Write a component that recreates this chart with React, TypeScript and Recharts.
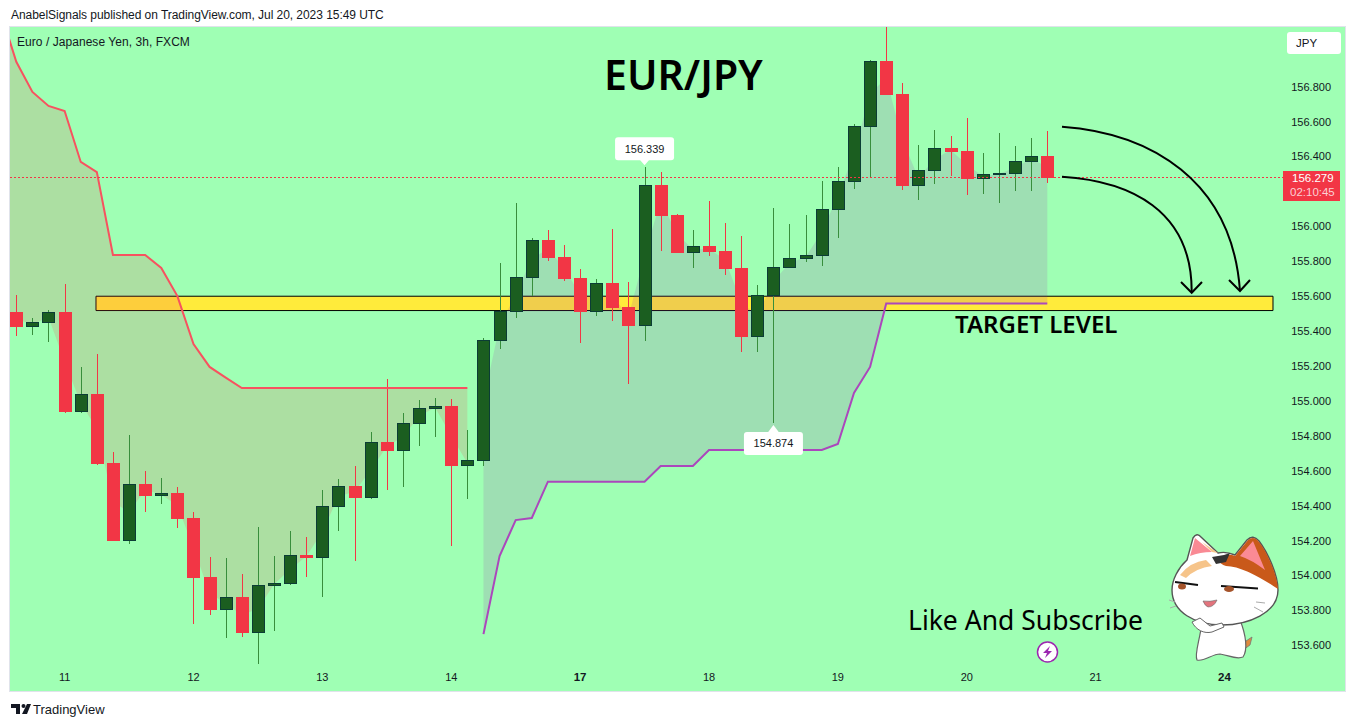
// EUR/JPY 3h candles with supertrend bands
import { ComposedChart, Bar, Area, Line, XAxis, YAxis, ReferenceArea, ReferenceLine, ReferenceDot } from 'recharts';

const opens = [155.510,155.428,155.451,155.510,154.939,155.040,154.645,154.202,154.525,154.458,154.473,154.330,153.992,153.805,153.877,153.675,153.944,153.956,154.118,154.105,154.397,154.513,154.446,154.765,154.715,154.870,154.956,154.970,154.629,154.658,155.348,155.511,155.708,155.920,155.823,155.704,155.514,155.674,155.537,155.431,156.235,156.065,155.852,155.886,155.859,155.762,155.371,155.603,155.763,155.815,155.834,156.096,156.256,156.573,156.946,156.758,156.233,156.321,156.447,156.432,156.275,156.296,156.302,156.371,156.403];
const highs = [155.607,155.475,155.521,155.670,155.193,155.269,154.706,154.805,154.599,154.559,154.507,154.364,154.106,154.101,154.009,154.278,154.112,154.255,154.221,154.490,154.553,154.628,154.822,155.126,154.931,155.006,155.015,155.011,154.834,155.359,155.789,156.134,155.934,155.979,155.893,155.756,155.699,155.985,155.682,156.339,156.311,156.071,155.979,156.145,156.019,155.945,155.664,156.105,156.014,156.065,156.260,156.340,156.586,156.953,157.140,156.821,156.466,156.552,156.518,156.621,156.420,156.535,156.460,156.506,156.546];
const lows = [155.374,155.380,155.340,154.929,154.933,154.633,154.200,154.183,154.366,154.412,154.274,153.724,153.776,153.644,153.650,153.495,153.684,153.948,153.994,153.879,154.257,154.084,154.439,154.490,154.509,154.744,154.795,154.169,154.439,154.629,155.300,155.477,155.601,155.804,155.689,155.334,155.489,155.460,155.099,155.345,155.861,155.849,155.763,155.832,155.722,155.282,155.282,154.874,155.762,155.798,155.775,155.935,156.216,156.275,156.754,156.210,156.153,156.245,156.290,156.182,156.187,156.136,156.203,156.203,156.250];
const closes = [155.426,155.451,155.508,154.939,155.038,154.641,154.200,154.523,154.458,154.471,154.326,153.988,153.805,153.876,153.673,153.944,153.956,154.116,154.102,154.397,154.511,154.446,154.763,154.715,154.872,154.958,154.970,154.629,154.660,155.348,155.514,155.708,155.920,155.821,155.700,155.511,155.674,155.534,155.431,156.235,156.061,155.849,155.886,155.855,155.758,155.368,155.605,155.766,155.817,155.834,156.098,156.258,156.573,156.946,156.754,156.233,156.321,156.447,156.428,156.273,156.298,156.304,156.373,156.401,156.279];
// middle of each candle body, the inner edge of both shaded bands
const bodyMid = [155.468,155.440,155.480,155.225,154.989,154.841,154.423,154.363,154.492,154.465,154.400,154.159,153.899,153.841,153.775,153.810,153.950,154.036,154.110,154.251,154.454,154.480,154.605,154.740,154.794,154.914,154.963,154.800,154.645,155.003,155.431,155.610,155.814,155.871,155.762,155.608,155.594,155.604,155.484,155.833,156.148,155.957,155.869,155.871,155.809,155.565,155.488,155.685,155.790,155.825,155.966,156.177,156.415,156.760,156.850,156.496,156.277,156.384,156.438,156.353,156.287,156.300,156.338,156.386,156.341];
const downStop = [156.943,156.770,156.690,156.661,156.369,156.311,155.836,155.836,155.836,155.762,155.601,155.326,155.195,155.134,155.074,155.074,155.074,155.074,155.074,155.074,155.074,155.074,155.074,155.074,155.074,155.074,155.074,155.074,155.074];
const upStop = [153.665,154.112,154.318,154.330,154.538,154.538,154.538,154.538,154.538,154.538,154.538,154.628,154.628,154.628,154.719,154.719,154.719,154.719,154.719,154.719,154.719,154.719,154.754,155.046,155.195,155.559,155.559,155.559,155.559,155.559,155.559,155.559,155.559,155.559,155.559,155.559];
const priceTicks = [153.6,153.8,154,154.2,154.4,154.6,154.8,155,155.2,155.4,155.6,155.8,156,156.4,156.6,156.8];
const dayTicks = [3,11,19,27,35,43,51,59,67,75];
const dayLabels = ['11','12','13','14','17','18','19','20','21','24'];
const boldDays = ['17','24'];

const RED = '#f23645';
const FONT = '"Liberation Sans", Arial, sans-serif';

const rows: any[] = [
  // the band comes in from left of the pane, one bar before the first candle
  { idx: -1, down: 157.234, downBand: [155.468, 157.234] },
  ...opens.map((open, i) => ({
    idx: i,
    open,
    high: highs[i],
    low: lows[i],
    close: closes[i],
    range: [lows[i], highs[i]],
    down: downStop[i] ?? null,
    downBand: i < downStop.length ? [bodyMid[i], downStop[i]] : null,
    up: i > 28 ? upStop[i - 29] : null,
    upBand: i > 28 ? [upStop[i - 29], bodyMid[i]] : null,
  })),
];

function Candle(props: any) {
  const { x, y, width, height, payload } = props;
  if (payload.open == null) return null;
  const perPrice = height / (payload.high - payload.low);
  const yOf = (p: number) => y + (payload.high - p) * perPrice;
  const mid = x + width / 2;
  const isUp = payload.close >= payload.open;
  const top = yOf(Math.max(payload.open, payload.close));
  const bottom = yOf(Math.min(payload.open, payload.close));
  return (
    <g shapeRendering="crispEdges">
      <line x1={mid} x2={mid} y1={y} y2={y + height} stroke={isUp ? '#388e3c' : RED} strokeWidth={1} />
      {isUp ? (
        <rect x={x + 0.5} y={top} width={width - 1} height={Math.max(bottom - top, 1)} fill="#1b5e20" stroke="#0b3d35" strokeWidth={1} />
      ) : (
        <rect x={x} y={top} width={width} height={Math.max(bottom - top, 2)} fill={RED} />
      )}
    </g>
  );
}

function DayTick(props: any) {
  const { x, y, payload } = props;
  const label = dayLabels[dayTicks.indexOf(payload.value)];
  const bold = boldDays.includes(label);
  return (
    <text x={x} y={y} dy={-2} textAnchor="middle" fontFamily={FONT} fontSize={bold ? 11.5 : 11} fontWeight={bold ? 700 : 400} fill="#131722">
      {label}
    </text>
  );
}

function Callout(props: any) {
  const { cx, cy, text, below } = props;
  const boxY = below ? cy + 9 : cy - 30;
  const tail = below
    ? `M${cx - 6} ${cy + 10} L${cx} ${cy + 2} L${cx + 6} ${cy + 10} Z`
    : `M${cx - 6} ${cy - 9} L${cx} ${cy - 2} L${cx + 6} ${cy - 9} Z`;
  return (
    <g>
      <rect x={cx - 29.5} y={boxY} width={59} height={23} rx={3} fill="#ffffff" />
      <path d={tail} fill="#ffffff" />
      <text x={cx} y={boxY + 15.5} textAnchor="middle" fontFamily={FONT} fontSize={11} fill="#131722">{text}</text>
    </g>
  );
}

function Annotations() {
  return (
    <svg width={1355} height={727} style={{ position: 'absolute', left: 0, top: 0, pointerEvents: 'none' }}>
      <g fill="none" stroke="#000000" strokeWidth={2}>
        <path d="M1062 126.7 C1150 133 1232 180 1240 291" />
        <path d="M1229 280 L1240 291 L1250 280" />
        <path d="M1062 176.7 C1130 181 1192 210 1191.7 292" />
        <path d="M1181 282 L1191.7 292.7 L1202 282" />
      </g>
      {/* flash icon */}
      <circle cx={1047.5} cy={652} r={10} fill="#ffffff" stroke="#9c27b0" strokeWidth={1.5} />
      <path d="M1050 646 L1043 653 L1047 653 L1045 658 L1052 651 L1048 651 Z" fill="#9c27b0" />
      {/* cat sticker */}
      <path d="M1243 643 L1252 637 L1250 645 L1243 650 Z" fill="#e08a3c" stroke="#777" strokeWidth={0.8} />
      <path d="M1202 622 C1200 640 1194 654 1197 660 C1204 662 1212 654 1220 654 C1228 655 1236 660 1243 657 C1248 650 1246 635 1240 620 Z" fill="#ffffff" stroke="#666" strokeWidth={1.2} />
      <path d="M1187 560 L1193 538 Q1197 532 1201 537 L1218 553 Q1226 551 1235 555 L1247 540 Q1253 534 1259 541 C1268 553 1278 575 1278 590 C1278 613 1248 625 1222 625 C1195 625 1172 612 1172 590 C1172 580 1178 568 1187 560 Z" fill="#ffffff" stroke="#555" strokeWidth={1.4} />
      <path d="M1190 556 L1195 538 L1212 552 Q1200 552 1190 556 Z" fill="#f98a94" />
      <path d="M1202 542 L1218 553 L1212 552 Z" fill="#f6c48a" />
      <path d="M1218 560 Q1226 552 1235 556 L1248 540 Q1254 535 1259 542 C1268 553 1277 575 1278 589 C1262 578 1240 566 1226 566 Q1220 564 1218 560 Z" fill="#c9591a" />
      <path d="M1240 556 L1253 541 L1265 570 Q1252 560 1240 556 Z" fill="#fb8a94" />
      <path d="M1180 575 Q1190 562 1206 560 L1212 566 Q1196 568 1186 578 Z" fill="#f6c48a" />
      <path d="M1212 557 L1224 555 L1230 553 L1226 562 L1216 564 Z" fill="#333" />
      <path d="M1175 582 L1198 585 M1221 586 L1258 588.5" stroke="#111" strokeWidth={2} fill="none" />
      <ellipse cx={1182} cy={586.5} rx={4} ry={3} fill="#a5532a" />
      <ellipse cx={1229} cy={589} rx={5} ry={3} fill="#a5532a" />
      <path d="M1203 601 Q1210 602 1217 600 Q1214 607 1208 607 Q1205 606 1203 601 Z" fill="#e2737c" stroke="#666" strokeWidth={0.6} />
      <path d="M1192 622 C1196 630 1204 634 1212 632 L1224 627 L1222 623 L1210 626 L1200 618 Z" fill="#ffffff" stroke="#666" strokeWidth={1} />
      <path d="M1256 602 L1265 603 M1254 607 L1263 612 M1169 600 L1175 602 M1170 608 L1176 606" stroke="#aaa" strokeWidth={1} fill="none" />
      {/* TradingView logo */}
      <path d="M11 704 H20 V714 H16 V708 H11 Z M27 704 L31 704 L27 714 L22 714 Z" fill="#131722" />
      <circle cx={23.5} cy={706} r={2} fill="#131722" />
    </svg>
  );
}

const textAt = (left: number, top: number, size: number, extra: any = {}) => ({
  position: 'absolute' as const,
  left,
  top,
  fontSize: size,
  lineHeight: 1,
  whiteSpace: 'nowrap' as const,
  color: '#131722',
  fontFamily: FONT,
  ...extra,
});

export default function App() {
  return (
    <div style={{ position: 'absolute', left: 0, top: 0, width: 1355, height: 727, background: '#ffffff', overflow: 'hidden' }}>
      <div style={{ position: 'absolute', left: 9, top: 26, width: 1335, height: 664, background: '#9fffb4', border: '1px solid #e0e3eb' }} />
      <ComposedChart
        width={1355}
        height={727}
        data={rows}
        margin={{ top: 27, right: 10, bottom: 36, left: 10 }}
        style={{ position: 'absolute', left: 0, top: 0 }}
      >
        <XAxis dataKey="idx" type="number" domain={[-0.391, 82.48]} allowDataOverflow ticks={dayTicks} axisLine={false} tickLine={false} mirror tick={<DayTick />} />
        <YAxis
          orientation="right"
          mirror
          domain={[153.339, 157.142]}
          allowDataOverflow
          ticks={priceTicks}
          axisLine={false}
          tickLine={false}
          tickMargin={8}
          tickFormatter={(v: number) => v.toFixed(3)}
          tick={{ fontSize: 11, fill: '#131722', fontFamily: FONT }}
        />
        <ReferenceArea x1={4.947} x2={78.01} y1={155.518} y2={155.6} fill="#ffeb3b" fillOpacity={1} stroke="#000000" strokeWidth={1} />
        <Area dataKey="downBand" stroke="none" fill={RED} fillOpacity={0.16} isAnimationActive={false} dot={false} activeDot={false} />
        <Area dataKey="upBand" stroke="none" fill="#9c27b0" fillOpacity={0.15} isAnimationActive={false} dot={false} activeDot={false} />
        <Line dataKey="down" stroke="#f7525f" strokeWidth={2} dot={false} activeDot={false} isAnimationActive={false} />
        <Line dataKey="up" stroke="#ab47bc" strokeWidth={2} dot={false} activeDot={false} isAnimationActive={false} />
        <Bar dataKey="range" barSize={13} shape={<Candle />} isAnimationActive={false} />
        <ReferenceLine segment={[{ x: -0.391, y: 156.279 }, { x: 78.63, y: 156.279 }]} stroke={RED} strokeWidth={1} strokeDasharray="2 2" shapeRendering="crispEdges" />
        <ReferenceDot x={39} y={156.339} r={0} shape={(p: any) => <Callout {...p} text="156.339" />} />
        <ReferenceDot x={47} y={154.874} r={0} shape={(p: any) => <Callout {...p} text="154.874" below />} />
      </ComposedChart>
      <Annotations />
      <div style={textAt(11, 9, 12, { letterSpacing: -0.05 })}>AnabelSignals published on TradingView.com, Jul 20, 2023 15:49 UTC</div>
      <div style={textAt(17, 36, 12, { letterSpacing: 0.05 })}>Euro / Japanese Yen, 3h, FXCM</div>
      <div style={textAt(33, 703, 13)}>TradingView</div>
      <div style={textAt(604, 54, 41, { fontFamily: '"Noto Sans", sans-serif', fontWeight: 600, color: '#000' })}>EUR/JPY</div>
      <div style={textAt(955, 312, 24, { fontFamily: '"Noto Sans", sans-serif', fontWeight: 600, color: '#000' })}>TARGET LEVEL</div>
      <div style={textAt(908, 607, 26.5, { fontFamily: '"Noto Sans", sans-serif', color: '#000' })}>Like And Subscribe</div>
      <div style={{ position: 'absolute', left: 1287, top: 32, width: 54, height: 22, background: '#fff', borderRadius: 3 }} />
      <div style={textAt(1296, 38, 11.5)}>JPY</div>
      <div style={{ position: 'absolute', left: 1283, top: 171, width: 57, height: 30, background: RED }} />
      <div style={textAt(1292, 173, 11.5, { color: '#ffffff' })}>156.279</div>
      <div style={textAt(1290, 187, 11.5, { color: '#fbd0d4' })}>02:10:45</div>
    </div>
  );
}
